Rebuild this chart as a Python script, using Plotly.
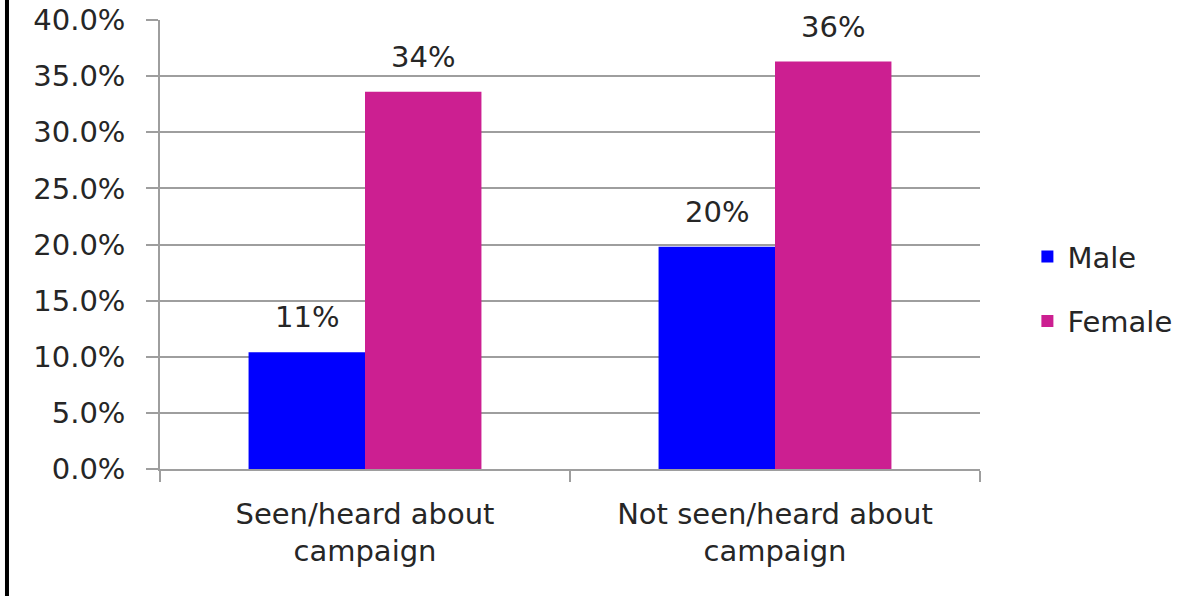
import plotly.graph_objects as go

categories = ["Seen/heard about<br>campaign", "Not seen/heard about<br>campaign"]
male_values = [0.104, 0.198]
female_values = [0.336, 0.363]
male_labels = ["11%", "20%"]
female_labels = ["34%", "36%"]
y_ticks = [0, 0.05, 0.10, 0.15, 0.20, 0.25, 0.30, 0.35, 0.40]

MALE_COLOR = "#0000FF"
FEMALE_COLOR = "#CC1F91"
FONT = "DejaVu Sans"
FS = 29
TEXT_COLOR = "#262626"

fig = go.Figure()
fig.add_trace(go.Bar(name="Male", x=categories, y=male_values,
                     marker=dict(color=MALE_COLOR, line=dict(width=0)),
                     legendgroup="m"))
fig.add_trace(go.Bar(name="Female", x=categories, y=female_values,
                     marker=dict(color=FEMALE_COLOR, line=dict(width=0)),
                     legendgroup="f"))

annotations = []
for cat, v, lab in zip(categories, male_values, male_labels):
    annotations.append(dict(x=cat, y=v, text=lab, showarrow=False, xref="x", yref="y",
                            xshift=-58, yshift=35, font=dict(family=FONT, size=FS, color=TEXT_COLOR)))
for cat, v, lab in zip(categories, female_values, female_labels):
    annotations.append(dict(x=cat, y=v, text=lab, showarrow=False, xref="x", yref="y",
                            xshift=58, yshift=35, font=dict(family=FONT, size=FS, color=TEXT_COLOR)))

fig.update_layout(
    width=1185, height=596,
    margin=dict(l=160, r=205, t=20, b=127, autoexpand=False),
    paper_bgcolor="white", plot_bgcolor="white",
    barmode="group", bargap=0.432, bargroupgap=0,
    font=dict(family=FONT, size=FS, color=TEXT_COLOR),
    showlegend=True,
    legend=dict(xref="container", yref="container", x=0.867, xanchor="left",
                y=0.515, yanchor="middle",
                font=dict(family=FONT, size=FS, color=TEXT_COLOR),
                traceorder="grouped", tracegroupgap=24, bgcolor="rgba(0,0,0,0)"),
    annotations=annotations,
    shapes=[dict(type="line", xref="paper", yref="paper", x0=-0.1866, x1=-0.1866,
                 y0=-0.4, y1=1.2, line=dict(color="black", width=4))],
)
fig.update_xaxes(
    type="category", showline=True, linecolor="#9E9E9E", linewidth=1.5,
    ticks="outside", tickson="boundaries", ticklen=11, tickcolor="#9E9E9E", tickwidth=1.5,
    showgrid=False, ticklabelstandoff=18, automargin=False,
    tickfont=dict(family=FONT, size=FS, color=TEXT_COLOR),
)
fig.update_yaxes(
    range=[0, 0.40], tickvals=y_ticks, tickformat=".1%",
    showline=True, linecolor="#9E9E9E", linewidth=1.5,
    ticks="outside", ticklen=12, tickcolor="#9E9E9E", tickwidth=1.5,
    showgrid=True, gridcolor="#9E9E9E", gridwidth=1.5, zeroline=False,
    ticklabelstandoff=15, automargin=False,
    tickfont=dict(family=FONT, size=FS, color=TEXT_COLOR),
)

fig.write_html("out.html", config={"displayModeBar": False},
               post_script="document.body.style.margin='0';")
